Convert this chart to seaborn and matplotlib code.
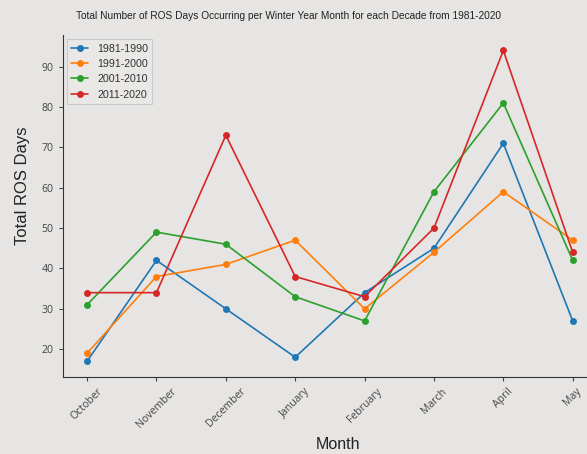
import numpy as np
import pandas as pd
import matplotlib
matplotlib.use("Agg")
import matplotlib.pyplot as plt
import seaborn as sns

months = ["October", "November", "December", "January", "February", "March", "April", "May"]
decades = ["1981-1990", "1991-2000", "2001-2010", "2011-2020"]
ros_1981_1990 = [17, 42, 30, 18, 34, 45, 71, 27]
ros_1991_2000 = [19, 38, 41, 47, 30, 44, 59, 47]
ros_2001_2010 = [31, 49, 46, 33, 27, 59, 81, 42]
ros_2011_2020 = [34, 34, 73, 38, 33, 50, 94, 44]

series = [ros_1981_1990, ros_1991_2000, ros_2001_2010, ros_2011_2020]
df = pd.concat([pd.DataFrame({"Month": months, "ROS": vals, "Decade": dec})
                for dec, vals in zip(decades, series)], ignore_index=True)

sns.set_style("ticks")
plt.rcParams["font.family"] = ["Liberation Sans", "DejaVu Sans"]
bg = "#e7e5e3"

fig = plt.figure(figsize=(5.87, 4.54), dpi=100, facecolor=bg)
ax = fig.add_axes([0.107, 0.170, 0.910, 0.753])
ax.set_facecolor(bg)

sns.lineplot(data=df, x="Month", y="ROS", hue="Decade", hue_order=decades,
             palette="tab10", marker="o", markersize=5, markeredgewidth=0,
             linewidth=1.2, sort=False, ax=ax)

sns.despine(ax=ax)
ax.spines["left"].set_color("#333333")
ax.spines["bottom"].set_color("#333333")
ax.set_yticks([20, 30, 40, 50, 60, 70, 80, 90])
ax.tick_params(axis="both", labelsize=7.6, colors="#444444", length=3)
for lab in ax.get_xticklabels() + ax.get_yticklabels():
    lab.set_family(["Open Sans", "DejaVu Sans"])
plt.setp(ax.get_xticklabels(), rotation=45)

# title sits left of the axes centre in the original (figure was cropped)
fig.text(289 / 587, 1 - 16 / 454,
         "Total Number of ROS Days Occurring per Winter Year Month for each Decade from 1981-2020",
         fontsize=7.3, color="#222222", ha="center", va="center")
ax.set_xlabel("Month", fontsize=11.5, color="#222222")
ax.set_ylabel("Total ROS Days", fontsize=12, color="#222222")
ax.xaxis.set_label_coords(338 / 587, 1 - 449 / 454, transform=fig.transFigure)
ax.yaxis.set_label_coords(30 / 587, 1 - 186 / 454, transform=fig.transFigure)
ax.xaxis.label.set_va("baseline")

leg = ax.legend(loc="upper left", fontsize=7.7, frameon=True, fancybox=False,
                facecolor="#eceae8", edgecolor="#c4c4c4", handlelength=1.6,
                borderaxespad=0.4)
leg.get_frame().set_linewidth(0.8)
for t in leg.get_texts():
    t.set_color("#333333")

fig.savefig("out.png", dpi=100, facecolor=bg)
